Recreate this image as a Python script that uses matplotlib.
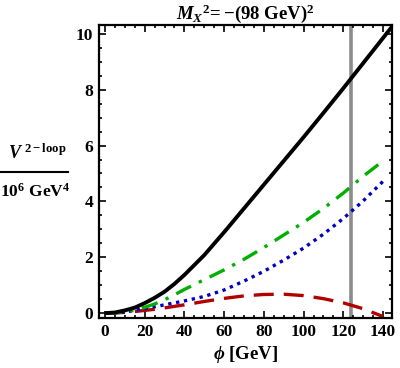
import matplotlib
matplotlib.use("Agg")
import matplotlib.pyplot as plt
from matplotlib.lines import Line2D
from matplotlib.ticker import MultipleLocator

plt.rcParams["font.family"] = "Liberation Serif"
plt.rcParams["font.weight"] = "bold"
plt.rcParams["axes.labelweight"] = "bold"
plt.rcParams["axes.titleweight"] = "bold"
plt.rcParams["mathtext.fontset"] = "custom"
plt.rcParams["mathtext.rm"] = "Liberation Serif:bold"
plt.rcParams["mathtext.it"] = "Liberation Serif:bold:italic"
plt.rcParams["mathtext.bf"] = "Liberation Serif:bold"

# values (phi in GeV, V in 10^6 GeV^4)
phi = [0, 5, 10, 15, 20, 25, 30, 35, 40, 50, 60, 70, 80, 90, 100, 110, 120, 130, 140]
phi_black = phi + [145]
v_black = [0.0, 0.025, 0.1, 0.2, 0.36, 0.55, 0.77, 1.05, 1.37, 2.08, 2.9, 3.75, 4.6,
           5.45, 6.3, 7.17, 8.05, 8.95, 9.85, 10.3]
v_green = [0.0, 0.01, 0.05, 0.12, 0.21, 0.33, 0.48, 0.66, 0.85, 1.2, 1.55, 1.93, 2.35,
           2.8, 3.25, 3.75, 4.3, 4.9, 5.45]
v_blue = [0.0, 0.01, 0.04, 0.1, 0.17, 0.23, 0.3, 0.37, 0.44, 0.6, 0.83, 1.15, 1.5,
          1.9, 2.33, 2.83, 3.39, 4.02, 4.72]
v_red = [0.0, 0.008, 0.03, 0.06, 0.1, 0.14, 0.19, 0.245, 0.3, 0.42, 0.53, 0.62, 0.67,
         0.68, 0.63, 0.52, 0.37, 0.16, -0.12]
phi_higgs = 124

fig = plt.figure(figsize=(4.0, 3.68), dpi=100)
ax = fig.add_axes([0.2475, 0.136, 0.7325, 0.795])

ax.axvline(phi_higgs, color="#8c8c8c", lw=2.6, zorder=1)
ax.plot(phi_black, v_black, color="black", lw=2.8, solid_capstyle="butt", zorder=5)
ax.plot(phi, v_green, color="#00b000", lw=2.4, dashes=(5, 2.6, 1, 2.6), zorder=4)
ax.plot(phi, v_blue, color="#0000c0", lw=2.4, dashes=(1, 1.4), zorder=3)
ax.plot(phi, v_red, color="#b00000", lw=2.4, dashes=(6, 3), zorder=2)

ax.set_xlim(-3, 144.5)
ax.set_ylim(-0.17, 10.3)
ax.xaxis.set_major_locator(MultipleLocator(20))
ax.xaxis.set_minor_locator(MultipleLocator(5))
ax.yaxis.set_major_locator(MultipleLocator(2))
ax.yaxis.set_minor_locator(MultipleLocator(0.5))
ax.tick_params(which="both", direction="in", top=True, right=True,
               labelsize=12.5, width=1.2, pad=4)
ax.tick_params(which="major", length=5)
ax.tick_params(which="minor", length=2.5)
for sp in ax.spines.values():
    sp.set_linewidth(1.6)

ax.set_title(r"$M_X{}^2\!=-(98\ \mathrm{GeV})^2$", fontsize=13.5, pad=3)
ax.set_xlabel(r"$\phi$ [GeV]", fontsize=13.5, labelpad=3)

# y label drawn as a fraction
fig.text(37 / 400, 1 - 153 / 368, r"$V^{\ \mathrm{2-loop}}$", fontsize=13,
         ha="center", va="center")
fig.add_artist(Line2D([0.0, 68 / 400], [1 - 172 / 368, 1 - 172 / 368],
                      color="black", lw=1.5, transform=fig.transFigure))
fig.text(35 / 400, 1 - 192 / 368, r"$10^6\ \mathrm{GeV}^4$", fontsize=12.5,
         ha="center", va="center")

fig.savefig("out.png", dpi=100)
